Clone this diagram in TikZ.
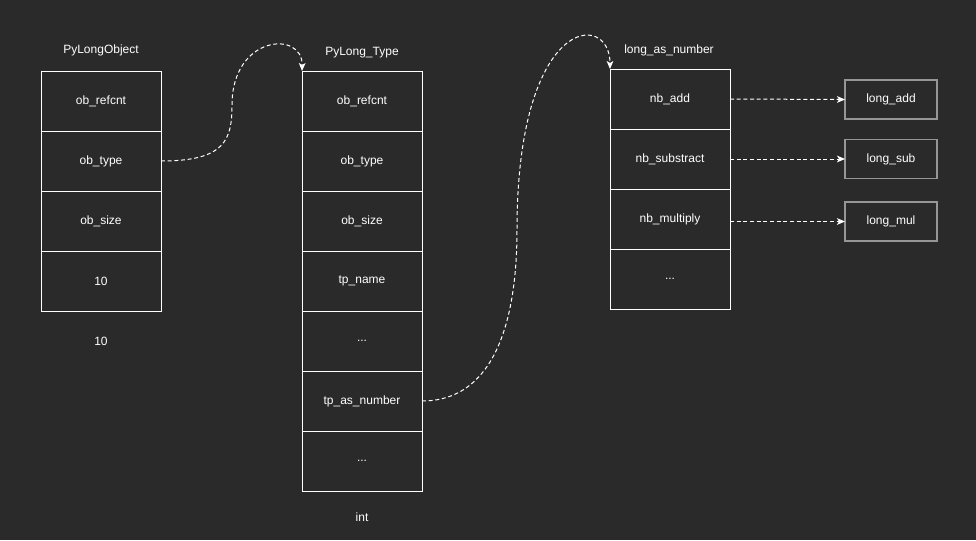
\documentclass[tikz,border=0pt]{standalone}
\usepackage{fontspec}
\setmainfont{Liberation Sans}
\usetikzlibrary{arrows.meta}
\definecolor{bgdark}{HTML}{2A2A2A}
\definecolor{fnline}{HTML}{969696}
\begin{document}
\begin{tikzpicture}[x=0.75pt,y=-0.75pt,
    every node/.style={font=\fontsize{9}{11}\selectfont,text=white},
    cell/.style={draw=white,line width=0.75pt,minimum width=90pt,minimum height=45pt,inner sep=0pt,outer sep=0pt},
    fnbox/.style={draw=fnline,line width=1.1pt,minimum width=69pt,minimum height=29.25pt,inner sep=0pt,outer sep=0pt},
    ptr/.style={draw=white,line width=0.75pt,dash pattern=on 3pt off 2pt,-{Stealth[length=6pt,width=5pt,inset=1.5pt]}}]
    \fill[bgdark] (0,0) rectangle (976,540);
    \useasboundingbox (0,0) rectangle (976,540);
    \node (lotitle) at (101,50) {PyLongObject};
    \node[cell] (lo1) at (101,101) {ob\_refcnt};
    \node[cell] (lo2) at (101,161) {ob\_type};
    \node[cell] (lo3) at (101,221) {ob\_size};
    \node[cell] (lo4) at (101,281) {10};
    \node (loval) at (101,341) {10};
    \node (pttitle) at (362,53) {PyLong\_Type};
    \node[cell] (pt1) at (362,101) {ob\_refcnt};
    \node[cell] (pt2) at (362,161) {ob\_type};
    \node[cell] (pt3) at (362,221) {ob\_size};
    \node[cell] (pt4) at (362,281) {tp\_name};
    \node[cell] (pt5) at (362,341) {...};
    \node[cell] (pt6) at (362,401) {tp\_as\_number};
    \node[cell] (pt7) at (362,461) {...};
    \node (ptval) at (362,517) {int};
    \node (nmtitle) at (669,50) {long\_as\_number};
    \node[cell] (nm1) at (670,99) {nb\_add};
    \node[cell] (nm2) at (670,159) {nb\_substract};
    \node[cell] (nm3) at (670,219) {nb\_multiply};
    \node[cell] (nm4) at (670,279) {...};
    \node[fnbox] (fadd) at (891,99.5) {long\_add};
    \node[fnbox] (fsub) at (891,159) {long\_sub};
    \node[fnbox] (fmul) at (891,221.5) {long\_mul};
    \draw[ptr] (lo2.east) .. controls (225,161) and (232,140) .. (232,105)
        .. controls (232,35) and (303,30) .. (pt1.north west);
    \draw[ptr] (pt6.east) .. controls (490,401) and (517,330) .. (517,230)
        .. controls (517,15) and (610,10) .. (nm1.north west);
    \draw[ptr] (nm1.east) -- (fadd.west);
    \draw[ptr] (nm2.east) -- (fsub.west);
    \draw[ptr] (fmul.west -| nm3.east) -- (fmul.west);
\end{tikzpicture}
\end{document}
